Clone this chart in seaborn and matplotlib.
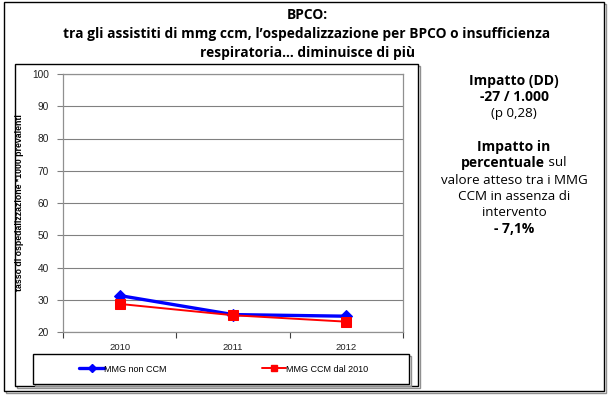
import matplotlib
matplotlib.use("Agg")
import matplotlib.pyplot as plt
import seaborn as sns
import pandas as pd
from matplotlib.patches import Rectangle
from matplotlib.lines import Line2D
from matplotlib import font_manager

years = [2010, 2011, 2012]
series_names = ["MMG non CCM", "MMG CCM dal 2010"]
non_ccm = [31.3, 25.4, 24.9]
ccm = [28.7, 25.2, 23.2]
y_ticks = [20, 30, 40, 50, 60, 70, 80, 90, 100]

title_lines = "BPCO:\ntra gli assistiti di mmg ccm, l\u2019ospedalizzazione per BPCO o insufficienza\nrespiratoria\u2026 diminuisce di più"
ylabel = "tasso di ospedalizzazione *1000 prevalenti"

df = pd.DataFrame({
    "anno": years * 2,
    "valore": non_ccm + ccm,
    "serie": [series_names[0]] * 3 + [series_names[1]] * 3,
})

sns.set_theme(style="white")
plt.rcParams["font.family"] = ["Open Sans", "DejaVu Sans"]
plt.rcParams["text.color"] = "black"

names = {f.name for f in font_manager.fontManager.ttflist}
if "Liberation Sans Narrow" in names:
    ylab_family, ylab_size = ["Liberation Sans Narrow"], 7.0
else:
    ylab_family, ylab_size = ["Liberation Sans"], 6.3

W, H = 614, 399
fig = plt.figure(figsize=(W / 100, H / 100), dpi=100)

def fx(x):
    return x / W

def fy(y):
    return 1 - y / H

def frame(x0, y0, x1, y1, lw=1.0, shadow=2, z=0.5):
    fig.patches.append(Rectangle((fx(x0 + shadow), fy(y1 + shadow)), fx(x1 - x0), (y1 - y0) / H,
                                 transform=fig.transFigure, fill=False, edgecolor="#909090",
                                 lw=lw, zorder=z - 0.1))
    fig.patches.append(Rectangle((fx(x0), fy(y1)), fx(x1 - x0), (y1 - y0) / H,
                                 transform=fig.transFigure, facecolor="white", edgecolor="black",
                                 lw=lw, zorder=z))

frame(4, 2, 604, 391, lw=1.0, shadow=2, z=0.2)
frame(15, 64, 418, 386, lw=1.0, shadow=2, z=0.5)

ax = fig.add_axes([fx(63), fy(332), fx(403 - 63), (332 - 74) / H])
ax.set_zorder(2)
ax.set_facecolor("white")

sub1 = df[df.serie == series_names[0]]
sub2 = df[df.serie == series_names[1]]
sns.lineplot(data=sub1, x="anno", y="valore", ax=ax, color="#0000FF", lw=2.4,
             marker="D", markersize=6.5, markeredgecolor="#0000FF", label=series_names[0], zorder=3)
sns.lineplot(data=sub2, x="anno", y="valore", ax=ax, color="#FF0000", lw=1.4,
             marker="s", markersize=6.5, markeredgecolor="#FF0000", label=series_names[1], zorder=4)

ax.set_xlim(2009.5, 2012.5)
ax.set_ylim(20, 100)
ax.set_yticks(y_ticks)
ax.set_xticks(years)
ax.set_xticks([2009.5, 2010.5, 2011.5, 2012.5], minor=True)
ax.set_xticklabels([str(y) for y in years], family=["Liberation Sans"], fontsize=6.8, color="#222222")
ax.set_yticklabels([str(v) for v in y_ticks], family=["Liberation Sans"], fontsize=7.3, color="#222222")
ax.tick_params(axis="x", which="major", length=0, pad=8)
ax.tick_params(axis="x", which="minor", length=4, color="#404040", width=0.8, direction="out", bottom=True)
ax.tick_params(axis="y", which="major", length=4, color="#808080", width=0.8, direction="out", left=True, pad=6)
ax.yaxis.grid(True, color="#808080", lw=0.8)
ax.set_axisbelow(True)
for s in ax.spines.values():
    s.set_color("#909090")
    s.set_linewidth(0.9)
ax.set_xlabel("")
ax.set_ylabel(ylabel, family=ylab_family, fontsize=ylab_size,
              fontweight="bold", labelpad=4, color="black")
ax.yaxis.set_label_coords(fx(24 - 63) / fx(403 - 63), 0.5)
ax.get_legend().remove()

# legend box
frame(33, 354, 409, 384, lw=1.0, shadow=2, z=1.0)
handles = [Line2D([], [], color="#0000FF", lw=2.4, marker="D", markersize=4.5),
           Line2D([], [], color="#FF0000", lw=1.4, marker="s", markersize=4.5)]
leg = fig.legend(handles, series_names, loc="center", bbox_to_anchor=(fx(224), fy(369)), ncol=2,
                 frameon=False, prop={"family": "Liberation Sans", "size": 6.5},
                 handlelength=2.7, handletextpad=0.05, columnspacing=10.5)
leg.set_zorder(3)

fig.text(fx(307), fy(34), title_lines, ha="center", va="center", fontsize=9.9,
         fontweight="bold", linespacing=1.42, zorder=3)

cx = fx(514)
kw = dict(ha="center", va="center", zorder=3)
fig.text(cx, fy(81), "Impatto (DD)", fontsize=10, fontweight="bold", **kw)
fig.text(cx, fy(97), "-27 / 1.000", fontsize=10, fontweight="bold", **kw)
fig.text(cx, fy(113), "(p 0,28)", fontsize=9.6, **kw)
fig.text(cx, fy(147), "Impatto in", fontsize=10, fontweight="bold", **kw)
t1 = fig.text(fx(514), fy(163), "percentuale", ha="right", va="center", fontsize=10,
              fontweight="bold", zorder=3)
fig.text(cx, fy(180), "valore atteso tra i MMG", fontsize=9.6, **kw)
fig.text(cx, fy(196), "CCM in assenza di", fontsize=9.6, **kw)
fig.text(cx, fy(212), "intervento", fontsize=9.6, **kw)
fig.text(cx, fy(229), "- 7,1%", fontsize=10, fontweight="bold", **kw)

fig.canvas.draw()
r = fig.canvas.get_renderer()
bb1 = t1.get_window_extent(r)
t2 = fig.text(0, fy(163), " sul", ha="left", va="center", fontsize=9.6, zorder=3)
bb2 = t2.get_window_extent(r)
total = bb1.width + bb2.width
left = 514 - total / 2
t1.set_x(fx(left + bb1.width))
t2.set_x(fx(left + bb1.width))

fig.savefig("out.png", dpi=100)
